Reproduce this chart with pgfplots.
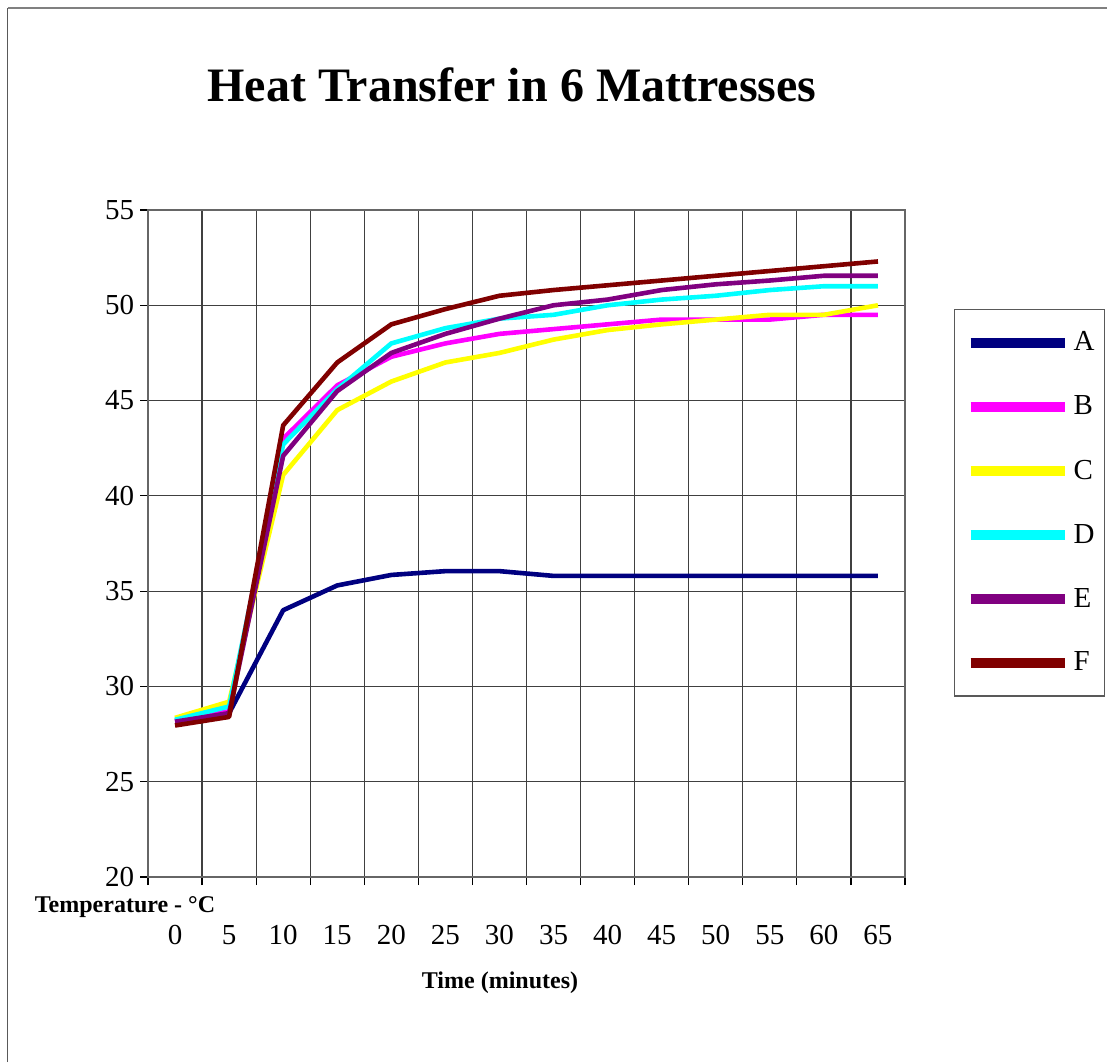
\documentclass[border=0pt]{standalone}
\usepackage{fontspec}
\setmainfont{Liberation Serif}
\usepackage{pgfplots}
\pgfplotsset{compat=1.18}
\definecolor{cA}{RGB}{0,0,128}
\definecolor{cB}{RGB}{255,0,255}
\definecolor{cC}{RGB}{255,255,0}
\definecolor{cD}{RGB}{0,255,255}
\definecolor{cE}{RGB}{128,0,128}
\definecolor{cF}{RGB}{128,0,0}
\begin{document}
\begin{tikzpicture}
\useasboundingbox (0,0) rectangle (553.5pt,531pt);
\draw[gray!70!black, line width=0.9pt] (3.75pt,0) -- (3.75pt,527pt);
\draw[gray, line width=0.9pt] (3.75pt,527pt) -- (560pt,527pt);
\node[font=\fontsize{24}{28}\selectfont\bfseries] at (256pt,488.5pt) {Heat Transfer in 6 Mattresses};
\begin{axis}[
  at={(74pt,92.5pt)}, anchor=south west,
  width=378.5pt, height=333.5pt, scale only axis,
  xmin=-0.5, xmax=13.5, ymin=20, ymax=55,
  xtick={-0.5,0.5,...,13.5},
  xticklabels={0,5,10,15,20,25,30,35,40,45,50,55,60,65,{}},
  ytick={20,25,...,55},
  xtick pos=bottom, ytick pos=left,
  tick align=outside,
  major tick length=4pt,
  tick style={black, line width=0.6pt},
  xmajorgrids, ymajorgrids,
  grid style={black!75, line width=0.6pt},
  axis line style={gray!80!black, line width=1.3pt},
  xticklabel style={anchor=base, xshift=13.5pt, yshift=-29.5pt, font=\fontsize{14.5}{16}\selectfont},
  yticklabel style={font=\fontsize{14.5}{16}\selectfont, inner sep=0.5pt, xshift=-2.3pt},
  /pgf/number format/assume math mode=true,
  legend style={at={(1.0647,0.8516)}, anchor=north west, draw=gray!70!black, line width=0.7pt,
    font=\fontsize{14.5}{16}\selectfont, row sep=17pt, inner xsep=3pt, inner ysep=9pt,
    legend cell align=left},
  legend image code/.code={\path[draw=none] (0pt,0pt) -- (52pt,0pt); \draw[line width=5pt] (5pt,0pt) -- (52pt,0pt);},
  every axis plot/.append style={line width=2.3pt, line join=round},
]
\addplot[cA] coordinates {(0,28.2) (1,28.6) (2,34.0) (3,35.3) (4,35.85) (5,36.05) (6,36.05) (7,35.8) (8,35.8) (9,35.8) (10,35.8) (11,35.8) (12,35.8) (13,35.8)};
\addlegendentry{A}
\addplot[cB] coordinates {(0,28.15) (1,28.7) (2,43.0) (3,45.8) (4,47.3) (5,48.0) (6,48.5) (7,48.75) (8,49.0) (9,49.25) (10,49.25) (11,49.25) (12,49.5) (13,49.5)};
\addlegendentry{B}
\addplot[cC] coordinates {(0,28.35) (1,29.2) (2,41.1) (3,44.5) (4,46.0) (5,47.0) (6,47.5) (7,48.2) (8,48.7) (9,49.0) (10,49.25) (11,49.5) (12,49.5) (13,50.0)};
\addlegendentry{C}
\addplot[cD] coordinates {(0,28.25) (1,28.95) (2,42.7) (3,45.6) (4,48.0) (5,48.8) (6,49.3) (7,49.5) (8,50.0) (9,50.3) (10,50.5) (11,50.8) (12,51.0) (13,51.0)};
\addlegendentry{D}
\addplot[cE] coordinates {(0,28.15) (1,28.6) (2,42.1) (3,45.5) (4,47.5) (5,48.5) (6,49.3) (7,50.0) (8,50.3) (9,50.8) (10,51.1) (11,51.3) (12,51.55) (13,51.55)};
\addlegendentry{E}
\addplot[cF] coordinates {(0,27.95) (1,28.4) (2,43.7) (3,47.0) (4,49.0) (5,49.8) (6,50.5) (7,50.8) (8,51.05) (9,51.3) (10,51.55) (11,51.8) (12,52.05) (13,52.3)};
\addlegendentry{F}
\end{axis}
\node[font=\fontsize{12}{14}\selectfont\bfseries, inner sep=0pt] at (62.5pt,77.5pt) {Temperature - °C};
\node[font=\fontsize{12}{14}\selectfont\bfseries] at (250pt,39.5pt) {Time (minutes)};
\end{tikzpicture}
\end{document}
